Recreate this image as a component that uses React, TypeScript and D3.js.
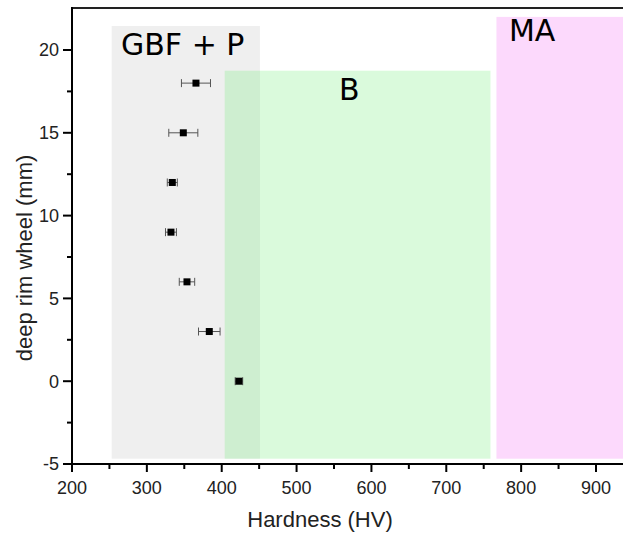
import React from "react";
import * as d3 from "d3";

const depth = [0, 3, 6, 9, 12, 15, 18];
const hardness = [423, 383.4, 353.6, 332.2, 334, 348.7, 365.6];
const hardnessErr = [5, 14.4, 10.3, 7.3, 6.7, 19.4, 19.4];

const regionLabels = ["GBF + P", "B", "MA"];
const regionX0 = [253, 404, 767];
const regionX1 = [451, 759, 1000];
const regionYTop = [21.45, 18.75, 22.0];
const regionYBottom = [-4.68, -4.68, -4.68];
const regionFill = ["#efefef", "rgba(100,234,108,0.24)", "#fcd9fc"];
const labelX = [265.5, 556.7, 783.7];
const labelY = [19.7, 16.98, 20.54];

const xTicks = [200, 300, 400, 500, 600, 700, 800, 900];
const xMinor = [250, 350, 450, 550, 650, 750, 850, 950];
const yTicks = [-5, 0, 5, 10, 15, 20];
const yMinor = [-2.5, 2.5, 7.5, 12.5, 17.5];

const W = 623;
const H = 533;

export default function App() {
  const x = d3.scaleLinear().domain([200, 900]).range([72, 596]);
  const y = d3.scaleLinear().domain([-5, 20]).range([464, 50]);
  const top = y(22.54);
  const left = x(200);
  const bottom = y(-5);
  const tickFont = "'Liberation Sans', Arial, sans-serif";
  const labelFont = "'DejaVu Sans', Verdana, sans-serif";

  return (
    <svg width={W} height={H} style={{ position: "absolute", left: 0, top: 0 }}>
      <rect x={0} y={0} width={W} height={H} fill="#fff" />
      {regionLabels.map((lab, i) => (
        <rect
          key={"r" + i}
          x={x(regionX0[i])}
          y={y(regionYTop[i])}
          width={x(regionX1[i]) - x(regionX0[i])}
          height={y(regionYBottom[i]) - y(regionYTop[i])}
          fill={regionFill[i]}
        />
      ))}
      {regionLabels.map((lab, i) => (
        <text
          key={"l" + i}
          x={x(labelX[i])}
          y={y(labelY[i])}
          fontFamily={labelFont}
          fontSize={30}
          fill="#000"
        >
          {lab}
        </text>
      ))}
      {depth.map((d, i) => {
        const cy = y(d);
        const x0 = x(hardness[i] - hardnessErr[i]);
        const x1 = x(hardness[i] + hardnessErr[i]);
        return (
          <g key={"p" + i}>
            <line x1={x0} x2={x1} y1={cy} y2={cy} stroke="#555" strokeWidth={1} />
            <line x1={x0} x2={x0} y1={cy - 4} y2={cy + 4} stroke="#555" strokeWidth={1} />
            <line x1={x1} x2={x1} y1={cy - 4} y2={cy + 4} stroke="#555" strokeWidth={1} />
            <rect x={x(hardness[i]) - 3.5} y={cy - 3.5} width={7} height={7} fill="#000" />
          </g>
        );
      })}
      {/* axes */}
      <line x1={left} x2={W} y1={top} y2={top} stroke="#222" strokeWidth={2} />
      <line x1={left} x2={left} y1={top - 1} y2={bottom + 1} stroke="#000" strokeWidth={2} />
      <line x1={left - 1} x2={W} y1={bottom} y2={bottom} stroke="#000" strokeWidth={2} />
      {xTicks.map((t) => (
        <g key={"xt" + t}>
          <line x1={x(t)} x2={x(t)} y1={bottom} y2={bottom + 8} stroke="#000" strokeWidth={2} />
          <text
            x={x(t)}
            y={bottom + 30}
            textAnchor="middle"
            fontFamily={tickFont}
            fontSize={18}
            fill="#222"
          >
            {t}
          </text>
        </g>
      ))}
      {xMinor.map((t) => (
        <line key={"xm" + t} x1={x(t)} x2={x(t)} y1={bottom} y2={bottom + 5} stroke="#000" strokeWidth={2} />
      ))}
      {yTicks.map((t) => (
        <g key={"yt" + t}>
          <line x1={left - 9} x2={left} y1={y(t)} y2={y(t)} stroke="#000" strokeWidth={2} />
          <text
            x={left - 13}
            y={y(t)}
            dy="0.35em"
            textAnchor="end"
            fontFamily={tickFont}
            fontSize={18}
            fill="#222"
          >
            {t}
          </text>
        </g>
      ))}
      {yMinor.map((t) => (
        <line key={"ym" + t} x1={left - 5} x2={left} y1={y(t)} y2={y(t)} stroke="#000" strokeWidth={2} />
      ))}
      <text
        x={320}
        y={527}
        textAnchor="middle"
        fontFamily={tickFont}
        fontSize={22}
        fill="#222"
      >
        Hardness (HV)
      </text>
      <text
        transform={`translate(32, ${(top + bottom) / 2 + 22}) rotate(-90)`}
        textAnchor="middle"
        fontFamily={tickFont}
        fontSize={22}
        fill="#222"
      >
        deep rim wheel (mm)
      </text>
    </svg>
  );
}
